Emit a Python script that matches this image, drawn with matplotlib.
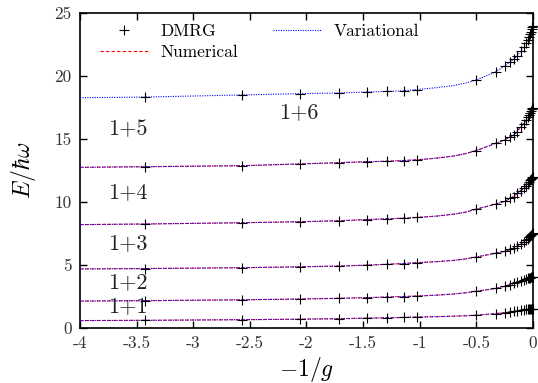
import numpy as np
import matplotlib
matplotlib.use("Agg")
import matplotlib.pyplot as plt
from matplotlib.ticker import FixedLocator, FixedFormatter

plt.rcParams['font.family'] = 'serif'
plt.rcParams['font.serif'] = ['cmr10', 'DejaVu Serif']
plt.rcParams['mathtext.fontset'] = 'cm'
plt.rcParams['axes.unicode_minus'] = False

# -1/g positions of the DMRG points
x_dmrg = [-3.43, -2.57, -2.06, -1.71, -1.47, -1.29, -1.14, -1.02, -0.5,
          -0.33, -0.25, -0.2, -0.17, -0.14, -0.11, -0.08, -0.06, -0.045,
          -0.035, -0.025, -0.018, -0.012, -0.007, -0.003]

# energies E/hbar*omega at those points, for each 1+N system
e_1p1 = [0.57, 0.62, 0.66, 0.70, 0.74, 0.77, 0.80, 0.83, 0.98, 1.10, 1.18, 1.24,
         1.28, 1.32, 1.37, 1.41, 1.43, 1.45, 1.46, 1.47, 1.48, 1.49, 1.495, 1.5]
e_1p2 = [2.13, 2.20, 2.26, 2.32, 2.37, 2.42, 2.46, 2.50, 2.88, 3.10, 3.28, 3.40,
         3.50, 3.60, 3.70, 3.80, 3.86, 3.90, 3.93, 3.96, 3.98, 4.00, 4.01, 4.02]
e_1p3 = [4.68, 4.75, 4.82, 4.88, 4.95, 5.02, 5.08, 5.15, 5.60, 5.90, 6.05, 6.20,
         6.32, 6.47, 6.63, 6.80, 6.92, 7.05, 7.15, 7.25, 7.32, 7.40, 7.45, 7.48]
e_1p4 = [8.22, 8.32, 8.40, 8.48, 8.57, 8.63, 8.68, 8.74, 9.40, 9.80, 10.02, 10.25,
         10.40, 10.65, 10.87, 11.05, 11.25, 11.40, 11.55, 11.68, 11.78, 11.87, 11.93, 11.97]
e_1p5 = [12.77, 12.85, 12.99, 13.09, 13.17, 13.20, 13.26, 13.32, 14.05, 14.63, 14.90, 15.15,
         15.30, 15.55, 15.95, 16.20, 16.45, 16.70, 16.88, 17.05, 17.20, 17.32, 17.41, 17.47]
e_1p6 = [18.30, 18.47, 18.57, 18.63, 18.70, 18.75, 18.80, 18.90, 19.66, 20.30, 20.77, 21.10,
         21.30, 21.56, 21.95, 22.30, 22.60, 22.85, 23.05, 23.30, 23.50, 23.70, 23.83, 23.93]

# extra points of the Numerical / Variational curves (no DMRG point there)
x_extra = [-4, -0.85, -0.7, -0.6, 0]
c_1p1 = [0.55, 0.86, 0.90, 0.93, 1.5]
c_1p2 = [2.10, 2.57, 2.66, 2.75, 4.03]
c_1p3 = [4.65, 5.23, 5.33, 5.44, 7.50]
c_1p4 = [8.17, 8.85, 9.00, 9.15, 12.0]
c_1p5 = [12.72, 13.45, 13.62, 13.80, 17.5]
c_1p6 = [18.25, 19.05, 19.22, 19.40, 24.0]

curve_names = ["1+1", "1+2", "1+3", "1+4", "1+5", "1+6"]
label_pos = [(-3.75, 1.7), (-3.75, 3.6), (-3.75, 6.7), (-3.75, 10.7), (-3.75, 15.7), (-2.24, 17.1)]

x_ticks = [-4, -3.5, -3, -2.5, -2, -1.5, -1, -0.5, 0]
x_tick_labels = ["-4", "-3.5", "-3", "-2.5", "-2", "-1.5", "-1", "-0.5", "0"]
y_ticks = [0, 5, 10, 15, 20, 25]

fig = plt.figure(figsize=(5.38, 3.83), dpi=100)
ax = fig.add_axes([0.1487, 0.1449, 0.8420, 0.8219])

dmrg = [e_1p1, e_1p2, e_1p3, e_1p4, e_1p5, e_1p6]
extra = [c_1p1, c_1p2, c_1p3, c_1p4, c_1p5, c_1p6]

for i in range(6):
    xl = np.array(x_dmrg + x_extra)
    yl = np.array(dmrg[i] + extra[i])
    idx = np.argsort(xl)
    xl, yl = xl[idx], yl[idx]
    if i < 5:
        ax.plot(xl, yl, color='#ff0000', linestyle=(0, (3, 2)), linewidth=0.8,
                label="Numerical" if i == 0 else None, zorder=2)
    ax.plot(xl, yl, color='#0000ff', linestyle=(0, (1, 1.2)), linewidth=0.8,
            label="Variational" if i == 0 else None, zorder=3)
    ax.plot(x_dmrg, dmrg[i], linestyle='none', marker='+', color='black',
            markersize=7, markeredgewidth=0.8, clip_on=False,
            label="DMRG" if i == 0 else None, zorder=4)
    ax.text(label_pos[i][0], label_pos[i][1], curve_names[i], fontsize=16,
            ha='left', va='center', color='#222222')

ax.set_xlim(-4, 0)
ax.set_ylim(0, 25)
ax.xaxis.set_major_locator(FixedLocator(x_ticks))
ax.xaxis.set_major_formatter(FixedFormatter(x_tick_labels))
ax.set_yticks(y_ticks)
ax.tick_params(direction='in', top=True, right=True, length=5, width=1.0,
               labelsize=12.5, pad=6, colors='black', labelcolor='#333333')
for s in ax.spines.values():
    s.set_linewidth(1.2)

ax.set_xlabel(r"$-1/g$", fontsize=17, labelpad=3)
ax.set_ylabel(r"$E/\hbar\omega$", fontsize=17, labelpad=12)

handles, labels = ax.get_legend_handles_labels()
order = [labels.index("DMRG"), labels.index("Numerical"), labels.index("Variational")]
ax.legend([handles[k] for k in order], [labels[k] for k in order],
          ncol=2, frameon=False, fontsize=12.5, loc='upper left',
          bbox_to_anchor=(0.044, 0.965), borderaxespad=0, borderpad=0,
          handlelength=2.8, handletextpad=0.7, columnspacing=2.0,
          labelspacing=0.35, markerfirst=True)

fig.savefig("out.png", dpi=100)
